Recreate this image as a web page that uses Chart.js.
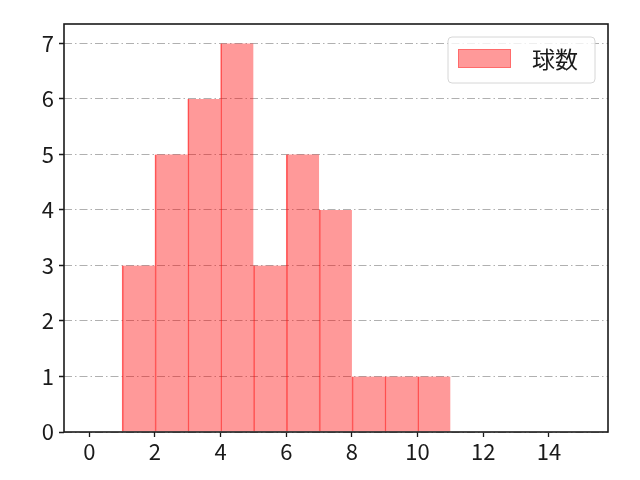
<!DOCTYPE html>
<html><head><meta charset="utf-8">
<script src="https://cdn.jsdelivr.net/npm/chart.js@4.4.1/dist/chart.umd.min.js"></script>
<style>html,body{margin:0;padding:0;background:#fff}#wrap{width:640px;height:480px}</style>
</head><body><div id="wrap"><canvas id="c" width="640" height="480"></canvas></div>
<script>
const seriesLabel = "球数";
const binLeft = [1, 2, 3, 4, 5, 6, 7, 8, 9, 10];
const binWidth = 1;
const counts = [3, 5, 6, 7, 3, 5, 4, 1, 1, 1];
const xTicks = [0, 2, 4, 6, 8, 10, 12, 14];
const yTicks = [0, 1, 2, 3, 4, 5, 6, 7];

const FONT = "'Noto Sans CJK JP', 'DejaVu Sans', sans-serif";
const PLOT = {left: 64, right: 608, top: 24, bottom: 432};

const framePlugin = {
  id: 'frame',
  afterDraw(chart) {
    const ctx = chart.ctx, a = chart.chartArea;
    ctx.save();
    ctx.strokeStyle = '#1a1a1a';
    ctx.lineWidth = 1.6;
    ctx.strokeRect(a.left, a.top, a.right - a.left, a.bottom - a.top);
    // legend
    const bx = a.right - 160, by = a.top + 13, bw = 147, bh = 46;
    ctx.beginPath();
    ctx.roundRect(bx, by, bw, bh, 4);
    ctx.fillStyle = 'rgba(255,255,255,0.8)';
    ctx.fill();
    ctx.strokeStyle = '#d6d6d6';
    ctx.lineWidth = 1;
    ctx.stroke();
    ctx.fillStyle = 'rgba(255,0,0,0.4)';
    ctx.fillRect(bx + 10, by + 12, 53, 19);
    ctx.strokeStyle = 'rgba(255,0,0,0.3)';
    ctx.strokeRect(bx + 10.5, by + 12.5, 52, 18);
    ctx.fillStyle = '#1a1a1a';
    ctx.font = "23px " + FONT;
    ctx.textBaseline = 'middle';
    ctx.textAlign = 'left';
    ctx.fillText(seriesLabel, bx + 84, by + 22);
    ctx.restore();
  }
};

new Chart(document.getElementById('c'), {
  type: 'bar',
  data: {
    datasets: [{
      label: seriesLabel,
      data: binLeft.map((b, i) => ({x: b + binWidth / 2, y: counts[i]})),
      backgroundColor: 'rgba(255,0,0,0.4)',
      borderColor: 'rgba(255,0,0,0.6)',
      borderWidth: {left: 1, right: 0, top: 0, bottom: 0},
      borderSkipped: false,
      barPercentage: 1,
      categoryPercentage: 1
    }]
  },
  options: {
    responsive: false,
    animation: false,
    devicePixelRatio: 1,
    layout: {padding: {left: 0, top: PLOT.top, right: 640 - PLOT.right, bottom: 0}},
    plugins: {legend: {display: false}, tooltip: {enabled: false}},
    scales: {
      x: {
        type: 'linear',
        offset: false,
        min: -0.77, max: 15.8,
        afterFit(s) { s.height = 480 - PLOT.bottom; },
        afterBuildTicks(s) { s.ticks = xTicks.map(v => ({value: v})); },
        border: {display: false},
        grid: {offset: false, drawOnChartArea: false, drawTicks: true, tickLength: 5, tickColor: '#1a1a1a', tickWidth: 1.3},
        ticks: {color: '#1a1a1a', font: {family: FONT, size: 22}, padding: 1, maxRotation: 0}
      },
      y: {
        min: 0, max: 7.35,
        z: 1,
        afterFit(s) { s.width = PLOT.left; },
        afterBuildTicks(s) { s.ticks = yTicks.map(v => ({value: v})); },
        border: {display: false, dash: [8, 3, 1.5, 3]},
        grid: {
          drawOnChartArea: true, drawTicks: true, tickLength: 5,
          color: '#b0b0b0', lineWidth: 1,
          tickColor: '#1a1a1a', tickWidth: 1.3, tickBorderDash: [1, 0]
        },
        ticks: {color: '#1a1a1a', font: {family: FONT, size: 22}, padding: 5}
      }
    }
  },
  plugins: [framePlugin]
});
</script></body></html>
